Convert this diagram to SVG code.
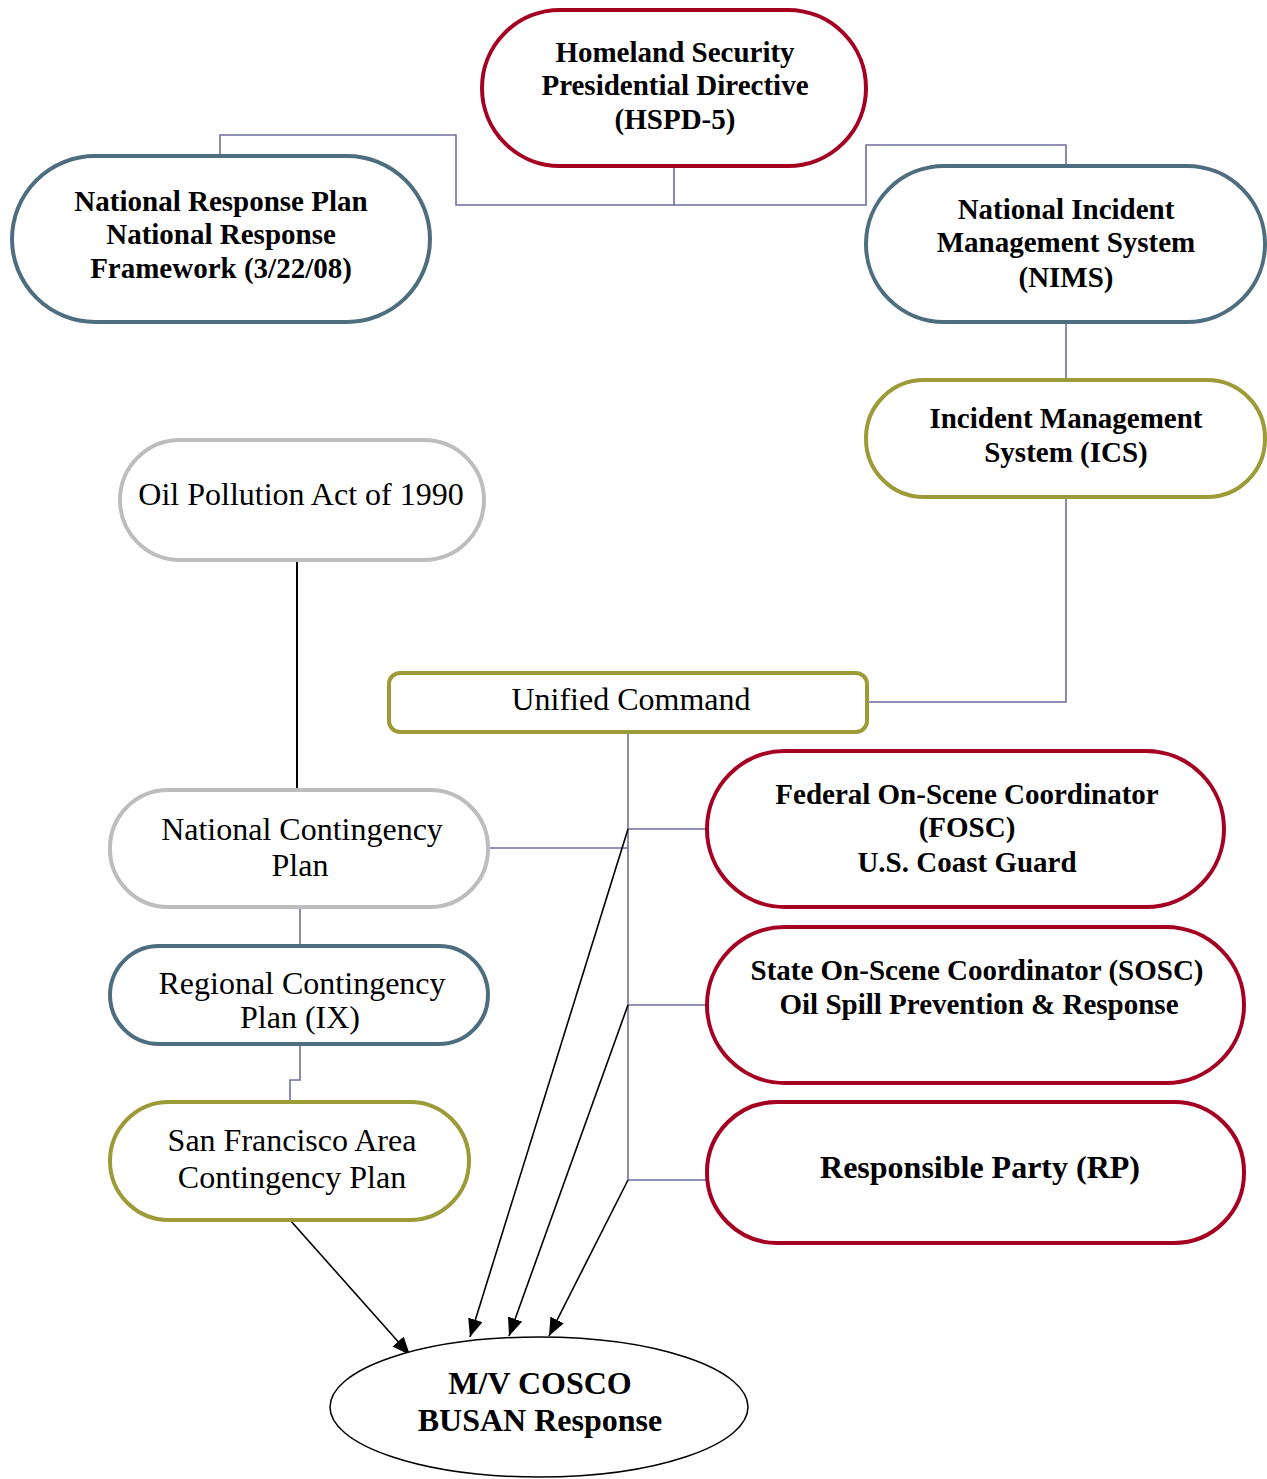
<svg xmlns="http://www.w3.org/2000/svg" width="1267" height="1479" viewBox="0 0 1267 1479">
<style>
.n{fill:#fff;stroke-width:4}
.red{stroke:#A50021}
.blu{stroke:#4E6E80}
.olv{stroke:#9C9B37}
.gry{stroke:#BDBDBD}
.b{font-family:"Liberation Serif","Times New Roman",serif;font-weight:bold;font-size:29px;text-anchor:middle;fill:#000}
.bl{font-size:32px}
.r{font-family:"Liberation Serif","Times New Roman",serif;font-size:32px;text-anchor:middle;fill:#000}
.c{fill:none;stroke:#6E6EA0;stroke-width:1.6}
.a{fill:none;stroke:#000;stroke-width:1.6}
</style>
<defs>
<marker id="ah" viewBox="0 0 18 15" refX="18" refY="7.5" markerWidth="18" markerHeight="15" markerUnits="userSpaceOnUse" orient="auto">
<path d="M0,0 L18,7.5 L0,15 z" fill="#000"/>
</marker>
</defs>
<rect width="1267" height="1479" fill="#fff"/>
<g id="connectors">
<polyline class="c" points="674,166 674,205 456,205 456,135 220,135 220,156"/>
<polyline class="c" points="674,205 866,205 866,145 1066,145 1066,166"/>
<line class="c" x1="1066" y1="322" x2="1066" y2="380"/>
<polyline class="c" points="1066,497 1066,702 867,702"/>
<line class="c" x1="628" y1="732" x2="628" y2="1180"/>
<line class="c" x1="628" y1="829" x2="707" y2="829"/>
<line class="c" x1="628" y1="1005" x2="707" y2="1005"/>
<line class="c" x1="628" y1="1180" x2="707" y2="1180"/>
<line class="c" x1="488" y1="848" x2="628" y2="848"/>
<line class="c" x1="300" y1="907" x2="300" y2="946"/>
<polyline class="c" points="300,1044 300,1080 290,1080 290,1102"/>
<line x1="297" y1="560" x2="297" y2="790" stroke="#000" stroke-width="2"/>
<line class="a" x1="628" y1="829" x2="470" y2="1337" marker-end="url(#ah)"/>
<line class="a" x1="628" y1="1005" x2="509" y2="1336" marker-end="url(#ah)"/>
<line class="a" x1="628" y1="1180" x2="549" y2="1336" marker-end="url(#ah)"/>
<line class="a" x1="290" y1="1220" x2="410" y2="1355" marker-end="url(#ah)"/>
</g>
<g id="hspd5">
<rect class="n red" x="482" y="10" width="384" height="156" rx="78"/>
<text class="b" x="675" y="62">Homeland Security</text>
<text class="b" x="675" y="95">Presidential Directive</text>
<text class="b" x="675" y="129">(HSPD-5)</text>
</g>
<g id="nrp">
<rect class="n blu" x="12" y="156" width="418" height="166" rx="83"/>
<text class="b" x="221" y="211">National Response Plan</text>
<text class="b" x="221" y="244">National Response</text>
<text class="b" x="221" y="278">Framework (3/22/08)</text>
</g>
<g id="nims">
<rect class="n blu" x="866" y="166" width="399" height="156" rx="78"/>
<text class="b" x="1066" y="219">National Incident</text>
<text class="b" x="1066" y="252">Management System</text>
<text class="b" x="1066" y="287">(NIMS)</text>
</g>
<g id="ics">
<rect class="n olv" x="866" y="380" width="399" height="117" rx="58"/>
<text class="b" x="1066" y="428">Incident Management</text>
<text class="b" x="1066" y="462">System (ICS)</text>
</g>
<g id="opa">
<rect class="n gry" x="120" y="440" width="364" height="120" rx="60"/>
<text class="r" x="301" y="505">Oil Pollution Act of 1990</text>
</g>
<g id="uc">
<rect class="n olv" x="389" y="673" width="478" height="59" rx="11"/>
<text class="r" x="631" y="710">Unified Command</text>
</g>
<g id="ncp">
<rect class="n gry" x="110" y="790" width="378" height="117" rx="58"/>
<text class="r" x="302" y="840">National Contingency</text>
<text class="r" x="300" y="876">Plan</text>
</g>
<g id="fosc">
<rect class="n red" x="707" y="751" width="517" height="156" rx="78"/>
<text class="b" x="967" y="804">Federal On-Scene Coordinator</text>
<text class="b" x="967" y="837">(FOSC)</text>
<text class="b" x="967" y="872">U.S. Coast Guard</text>
</g>
<g id="rcp">
<rect class="n blu" x="110" y="946" width="378" height="98" rx="49"/>
<text class="r" x="302" y="994">Regional Contingency</text>
<text class="r" x="300" y="1028">Plan (IX)</text>
</g>
<g id="sosc">
<rect class="n red" x="707" y="927" width="537" height="156" rx="78"/>
<text class="b" x="977" y="980">State On-Scene Coordinator (SOSC)</text>
<text class="b" x="979" y="1014">Oil Spill Prevention &amp; Response</text>
</g>
<g id="sfacp">
<rect class="n olv" x="110" y="1102" width="359" height="118" rx="59"/>
<text class="r" x="292" y="1151">San Francisco Area</text>
<text class="r" x="292" y="1188">Contingency Plan</text>
</g>
<g id="rp">
<rect class="n red" x="707" y="1102" width="537" height="141" rx="70"/>
<text class="b bl" x="980" y="1178">Responsible Party (RP)</text>
</g>
<g id="cosco">
<ellipse cx="539" cy="1407" rx="209" ry="70" fill="#fff" stroke="#000" stroke-width="1.5"/>
<text class="b bl" x="540" y="1394">M/V COSCO</text>
<text class="b bl" x="540" y="1431">BUSAN Response</text>
</g>
</svg>
